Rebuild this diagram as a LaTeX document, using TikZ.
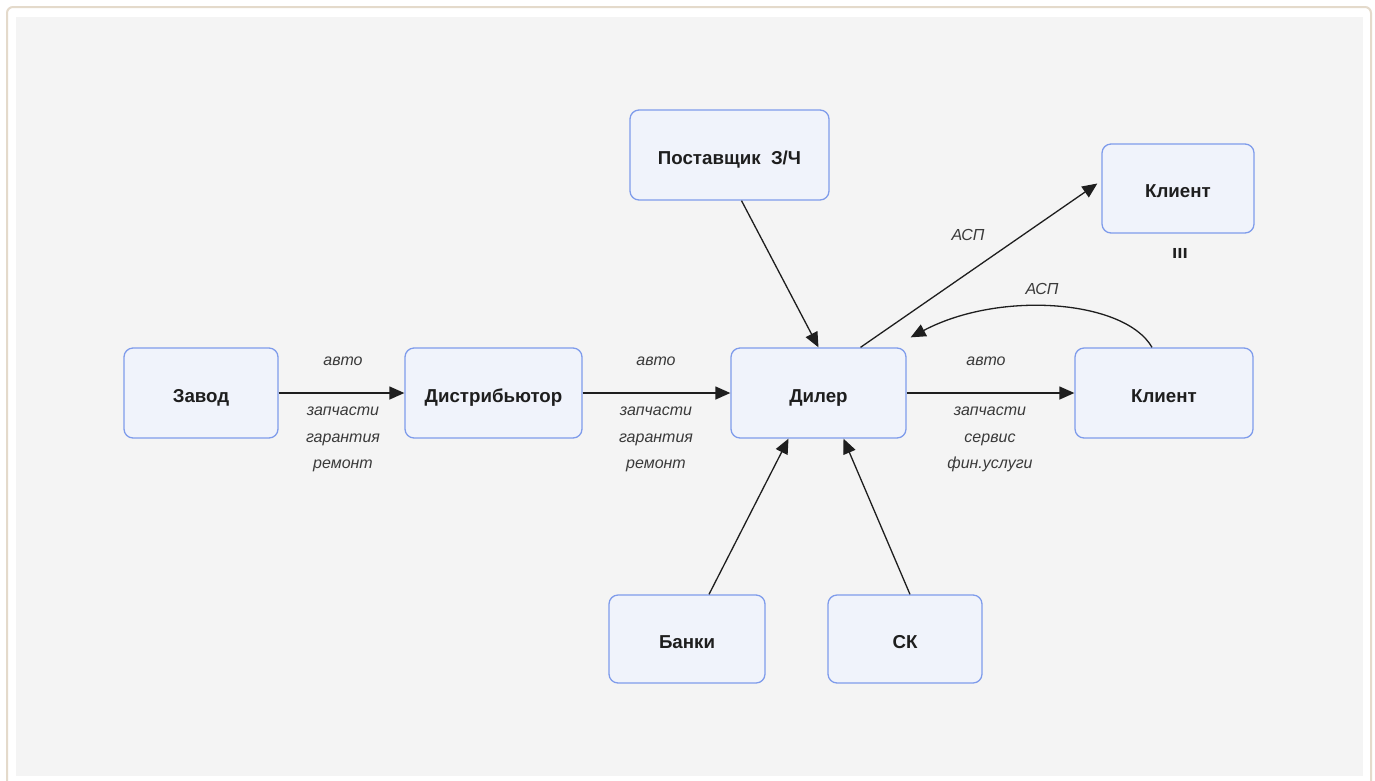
\documentclass[tikz,border=0pt]{standalone}
\usepackage{fontspec}
\setmainfont{Liberation Sans}
\usetikzlibrary{arrows.meta}
\definecolor{pagebg}{HTML}{F4F4F4}
\definecolor{framecol}{HTML}{E4DACB}
\definecolor{boxfill}{HTML}{F0F3FB}
\definecolor{boxline}{HTML}{7F9CEB}
\definecolor{inkcol}{HTML}{1E1E1E}
\definecolor{labelcol}{HTML}{3A3A3A}
\tikzset{
  unit/.style={draw=boxline, fill=boxfill, line width=1.3pt, rounded corners=9pt,
    minimum height=90pt, inner sep=0pt, text=inkcol, text height=18pt, text depth=0pt,
    font=\bfseries\fontsize{18.7}{22}\selectfont},
  flow/.style={draw=inkcol, line width=1.3pt, -{Triangle[length=15pt,width=13pt]}},
  lbl/.style={text=labelcol, font=\itshape\fontsize{16}{26.5}\selectfont, align=center, inner sep=0pt}
}
\begin{document}
\begin{tikzpicture}[x=1pt, y=-1pt]
  % page and frame
  \useasboundingbox (0,0) rectangle (1375,780);
  \fill[white] (0,0) rectangle (1375,780);
  \begin{scope}
    \clip (0,0) rectangle (1375,780);
    \draw[framecol, line width=2pt, rounded corners=6pt] (7,7) rectangle (1371,800);
  \end{scope}
  \fill[pagebg] (16,17) rectangle (1363,776);

  % boxes
  \node[unit, minimum width=154pt] (zavod) at (201,393) {Завод};
  \node[unit, minimum width=177pt] (distr) at (493.5,393) {Дистрибьютор};
  \node[unit, minimum width=175pt] (dealer) at (818.5,393) {Дилер};
  \node[unit, minimum width=178pt] (client) at (1164,393) {Клиент};
  \node[unit, minimum width=199pt] (supplier) at (729.5,155) {Поставщик\ \ З/Ч};
  \node[unit, minimum width=152pt, minimum height=89pt] (clienttop) at (1178,188.5) {Клиент};
  \node[unit, minimum width=156pt, minimum height=88pt] (banks) at (687,639) {Банки};
  \node[unit, minimum width=154pt, minimum height=88pt] (sk) at (905,639) {СК};
  \node[text=inkcol, font=\bfseries\fontsize{19}{22}\selectfont, inner sep=0pt] (mark) at (1180,253) {ııı};

  % horizontal flows
  \draw[flow] (zavod) -- (distr);
  \draw[flow] (distr) -- (dealer);
  \draw[flow] (dealer) -- (client);

  % flows into the dealer
  \draw[flow] ([xshift=12pt]supplier.south) -- (dealer.north);
  \draw[flow] ([xshift=22pt]banks.north) -- ([xshift=-30pt]dealer.south);
  \draw[flow] ([xshift=5pt]sk.north) -- ([xshift=25pt]dealer.south);

  % dealer and clients
  \draw[flow] ([xshift=42pt]dealer.north) -- ([xshift=-4pt,yshift=5pt]clienttop.west);
  \draw[flow] ([xshift=-12pt]client.north) .. controls (1125,300) and (1000,290) .. ([xshift=4pt,yshift=10pt]dealer.north east);

  % labels
  \node[lbl] (l1a) at (343,361) {авто};
  \node[lbl, anchor=north] (l1b) at (343,407) {запчасти\\гарантия\\ремонт};
  \node[lbl] (l2a) at (656,361) {авто};
  \node[lbl, anchor=north] (l2b) at (656,407) {запчасти\\гарантия\\ремонт};
  \node[lbl] (l3a) at (986,361) {авто};
  \node[lbl, anchor=north] (l3b) at (990,407) {запчасти\\сервис\\фин.услуги};
  \node[lbl] (l4) at (968,235) {АСП};
  \node[lbl] (l5) at (1042,289) {АСП};
\end{tikzpicture}
\end{document}
